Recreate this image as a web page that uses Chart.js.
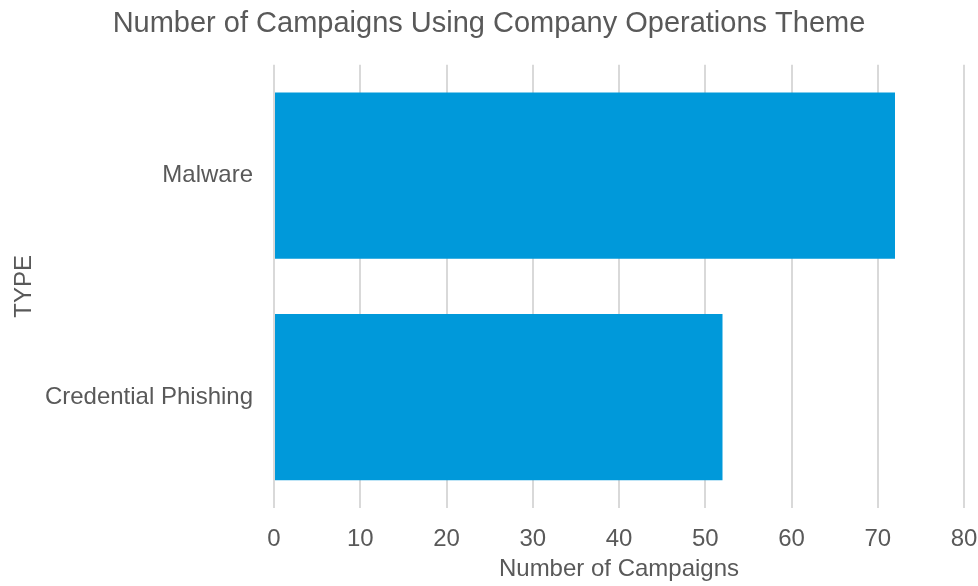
<!DOCTYPE html>
<html>
<head>
<meta charset="utf-8">
<script src="https://cdn.jsdelivr.net/npm/chart.js@4/dist/chart.umd.min.js"></script>
<style>
  html, body { margin: 0; padding: 0; background: #fff; }
  #wrap { width: 978px; height: 586px; }
</style>
</head>
<body>
<div id="wrap"><canvas id="barChart"></canvas></div>
<script>
// campaign counts per type
const types = ["Malware", "Credential Phishing"];
const campaignCounts = [72, 52];
const xTicks = [0, 10, 20, 30, 40, 50, 60, 70, 80];

const textGray = "#595959";
const font = "'Liberation Sans', Arial, sans-serif";

const ctx = document.getElementById("barChart").getContext("2d");

let barChart = new Chart(ctx, {
  type: "bar",
  data: {
    labels: types,
    datasets: [{
      label: "Number of Campaigns",
      backgroundColor: "#0099DA",
      data: campaignCounts,
      categoryPercentage: 0.75,
      barPercentage: 1.0
    }]
  },
  options: {
    indexAxis: "y",
    responsive: true,
    maintainAspectRatio: false,
    animation: false,
    layout: { padding: 0 },
    plugins: {
      legend: { display: false },
      tooltip: { enabled: false },
      title: {
        display: true,
        text: "Number of Campaigns Using Company Operations Theme",
        color: textGray,
        font: { family: font, size: 29, weight: "normal" },
        padding: { top: 7, bottom: 23 }
      }
    },
    scales: {
      x: {
        min: xTicks[0],
        max: xTicks[xTicks.length - 1],
        afterBuildTicks: scale => {
          scale.ticks = xTicks.map(v => ({ value: v }));
        },
        afterFit: scale => {
          // keep room for the "80" label on the right edge
          scale.height = 78;
          scale.paddingLeft = 0;
          scale.paddingRight = 14;
        },
        ticks: {
          color: textGray,
          font: { family: font, size: 24 },
          padding: 17
        },
        grid: { color: "#d9d9d9", lineWidth: 2, drawTicks: false },
        border: { display: false },
        title: {
          display: true,
          text: "Number of Campaigns",
          color: textGray,
          font: { family: font, size: 24 },
          padding: { top: 0, bottom: 2 }
        }
      },
      y: {
        afterFit: scale => { scale.width = 274; },
        ticks: {
          color: textGray,
          font: { family: font, size: 24 },
          padding: 21
        },
        grid: { display: false, drawTicks: false },
        border: { display: false },
        title: {
          display: true,
          text: "TYPE",
          color: textGray,
          font: { family: font, size: 24 },
          padding: { top: 10, bottom: 0 }
        }
      }
    }
  }
});
</script>
</body>
</html>
